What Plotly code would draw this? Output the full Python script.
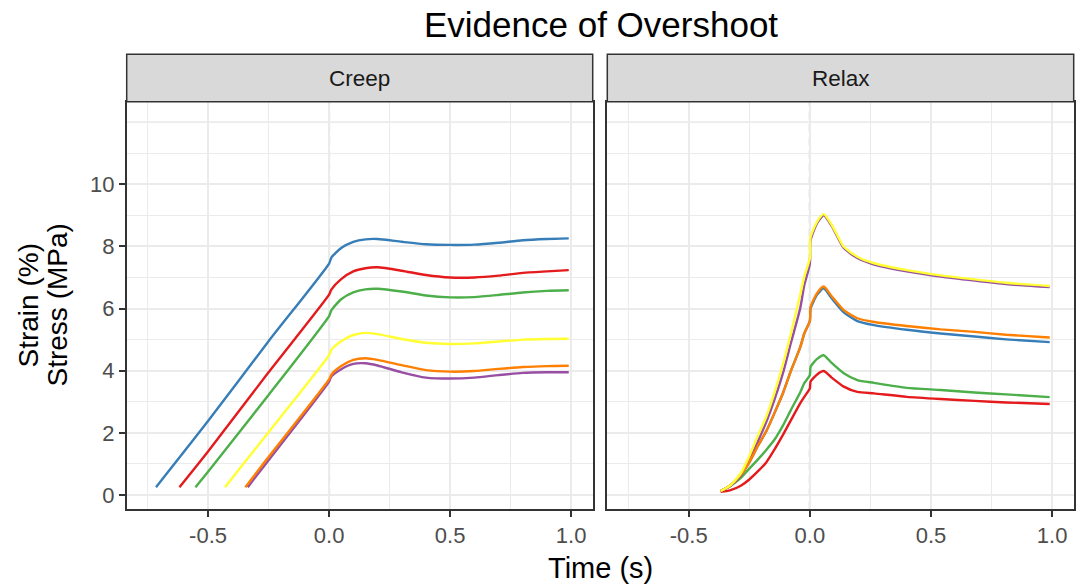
import plotly.graph_objects as go

W, H = 1076, 588

# ---------------- data ----------------
series_names = ["red", "blue", "green", "purple", "orange", "yellow"]
colors = {"red": "#E41A1C", "blue": "#377EB8", "green": "#4DAF4A",
          "purple": "#984EA3", "orange": "#FF7F00", "yellow": "#FFFF33"}

creep_x = {
    "red":    [-0.618, -0.5, -0.25, 0.0, 0.01, 0.05, 0.1, 0.15, 0.2, 0.3, 0.4, 0.5, 0.6, 0.7, 0.8, 0.9, 0.99],
    "blue":   [-0.715, -0.5, -0.25, 0.0, 0.01, 0.05, 0.1, 0.15, 0.2, 0.3, 0.4, 0.5, 0.6, 0.7, 0.8, 0.9, 0.99],
    "green":  [-0.552, -0.5, -0.25, 0.0, 0.01, 0.05, 0.1, 0.15, 0.2, 0.3, 0.4, 0.5, 0.6, 0.7, 0.8, 0.9, 0.99],
    "purple": [-0.336, -0.3, -0.25, 0.0, 0.01, 0.05, 0.1, 0.15, 0.2, 0.3, 0.4, 0.5, 0.6, 0.7, 0.8, 0.9, 0.99],
    "orange": [-0.346, -0.3, -0.25, 0.0, 0.01, 0.05, 0.1, 0.15, 0.2, 0.3, 0.4, 0.5, 0.6, 0.7, 0.8, 0.9, 0.99],
    "yellow": [-0.430, -0.4, -0.25, 0.0, 0.01, 0.05, 0.1, 0.15, 0.2, 0.3, 0.4, 0.5, 0.6, 0.7, 0.8, 0.9, 0.99],
}
creep_y = {
    "red":    [0.25, 1.40, 3.95, 6.45, 6.62, 6.95, 7.20, 7.30, 7.33, 7.22, 7.08, 7.00, 7.00, 7.06, 7.15, 7.20, 7.24],
    "blue":   [0.25, 2.38, 4.95, 7.45, 7.65, 7.95, 8.15, 8.23, 8.24, 8.15, 8.07, 8.05, 8.06, 8.12, 8.20, 8.24, 8.26],
    "green":  [0.25, 0.75, 3.22, 5.76, 5.95, 6.30, 6.52, 6.62, 6.64, 6.55, 6.42, 6.36, 6.37, 6.44, 6.52, 6.57, 6.59],
    "purple": [0.25, 0.62, 1.12, 3.65, 3.82, 4.05, 4.22, 4.24, 4.17, 3.95, 3.78, 3.75, 3.78, 3.86, 3.93, 3.95, 3.95],
    "orange": [0.25, 0.72, 1.22, 3.72, 3.88, 4.15, 4.35, 4.40, 4.35, 4.18, 4.02, 3.97, 3.99, 4.06, 4.12, 4.15, 4.16],
    "yellow": [0.25, 0.55, 2.02, 4.50, 4.68, 4.95, 5.15, 5.22, 5.18, 5.02, 4.90, 4.86, 4.88, 4.94, 5.00, 5.02, 5.03],
}

relax_x = [-0.368, -0.33, -0.285, -0.25, -0.216, -0.18, -0.147, -0.11, -0.078, -0.04, -0.023,
           0.0, 0.003, 0.03, 0.057, 0.09, 0.14, 0.196, 0.265, 0.40, 0.54, 0.68, 0.81, 0.99]
relax_y = {
    "red":    [0.10, 0.15, 0.30, 0.50, 0.75, 1.05, 1.45, 1.95, 2.41, 2.95, 3.16,
               3.43, 3.65, 3.88, 3.99, 3.78, 3.49, 3.32, 3.27, 3.16, 3.09, 3.03, 2.98, 2.93],
    "blue":   [0.13, 0.30, 0.65, 1.05, 1.56, 2.05, 2.62, 3.30, 4.00, 4.75, 5.20,
               5.60, 6.00, 6.45, 6.65, 6.33, 5.88, 5.60, 5.47, 5.32, 5.20, 5.10, 5.01, 4.92],
    "green":  [0.13, 0.28, 0.55, 0.85, 1.13, 1.45, 1.77, 2.25, 2.74, 3.30, 3.60,
               3.86, 4.13, 4.38, 4.50, 4.25, 3.92, 3.70, 3.61, 3.45, 3.38, 3.30, 3.24, 3.15],
    "purple": [0.13, 0.28, 0.62, 1.12, 1.70, 2.35, 3.05, 3.95, 4.90, 6.00, 6.75,
               7.45, 8.20, 8.75, 9.00, 8.66, 7.95, 7.63, 7.42, 7.20, 7.03, 6.90, 6.79, 6.69],
    "orange": [0.13, 0.30, 0.65, 1.05, 1.56, 2.05, 2.62, 3.30, 4.00, 4.75, 5.20,
               5.60, 6.05, 6.50, 6.71, 6.40, 5.95, 5.69, 5.57, 5.44, 5.33, 5.25, 5.16, 5.07],
    "yellow": [0.13, 0.30, 0.70, 1.25, 1.88, 2.52, 3.27, 4.24, 5.20, 6.44, 7.03,
               7.62, 8.30, 8.80, 9.04, 8.70, 7.99, 7.67, 7.46, 7.24, 7.07, 6.94, 6.83, 6.73],
}

facet_labels = ["Creep", "Relax"]
x_tickvals = [-0.5, 0.0, 0.5, 1.0]
x_ticktext = ["-0.5", "0.0", "0.5", "1.0"]
x_minor = [-0.75, -0.25, 0.25, 0.75]
y_tickvals = [0, 2, 4, 6, 8, 10]
y_ticktext = ["0", "2", "4", "6", "8", "10"]
y_minor = [1, 3, 5, 7, 9, 11]
title_text = "Evidence of Overshoot"
x_title = "Time (s)"
y_title_lines = ["Strain (%)", "Stress (MPa)"]

# ---------------- layout geometry ----------------
def px_x(p):
    return p / W

def px_y(p):
    return 1 - p / H

d1 = [px_x(126.7), px_x(592.7)]
d2 = [px_x(607.3), px_x(1073.7)]
ydom = [px_y(509.3), px_y(101.7)]
strip_top = px_y(54.3)

FONT = "Liberation Sans, Arial, sans-serif"
GRID = "#EBEBEB"
BORDER = "#333333"

fig = go.Figure()

for name in series_names:
    fig.add_trace(go.Scatter(x=creep_x[name], y=creep_y[name], mode="lines",
                             line=dict(color=colors[name], width=2.4, shape="spline", smoothing=0.6),
                             xaxis="x", yaxis="y", showlegend=False, hoverinfo="skip"))
for name in series_names:
    fig.add_trace(go.Scatter(x=relax_x, y=relax_y[name], mode="lines",
                             line=dict(color=colors[name], width=2.4, shape="spline", smoothing=0.6),
                             xaxis="x2", yaxis="y2", showlegend=False, hoverinfo="skip"))

xr = [-0.836, 1.089]
yr = [-0.46, 12.66]

xcommon = dict(range=xr, tickmode="array", tickvals=x_tickvals, ticktext=x_ticktext,
               showgrid=True, gridcolor=GRID, gridwidth=1.8, zeroline=False,
               showline=True, linecolor=BORDER, linewidth=1.5, mirror=True,
               ticks="outside", ticklen=6, tickwidth=1.5, tickcolor=BORDER,
               tickfont=dict(family=FONT, size=22, color="#4D4D4D"),
               minor=dict(tickmode="array", tickvals=x_minor, showgrid=True,
                          gridcolor=GRID, gridwidth=1, ticks=""),
               fixedrange=True)
ycommon = dict(range=yr, tickmode="array", tickvals=y_tickvals, ticktext=y_ticktext,
               showgrid=True, gridcolor=GRID, gridwidth=1.8, zeroline=False,
               showline=True, linecolor=BORDER, linewidth=1.5, mirror=True,
               tickfont=dict(family=FONT, size=22, color="#4D4D4D"),
               minor=dict(tickmode="array", tickvals=y_minor, showgrid=True,
                          gridcolor=GRID, gridwidth=1, ticks=""),
               domain=ydom, fixedrange=True)

fig.update_layout(
    width=W, height=H,
    margin=dict(l=0, r=0, t=0, b=0),
    paper_bgcolor="white", plot_bgcolor="white",
    xaxis=dict(domain=d1, anchor="y", **xcommon),
    xaxis2=dict(domain=d2, anchor="y2", **xcommon),
    yaxis=dict(anchor="x", ticks="outside", ticklen=6, tickwidth=1.5, tickcolor=BORDER,
               showticklabels=True, **ycommon),
    yaxis2=dict(anchor="x2", ticks="", showticklabels=False, matches="y", **ycommon),
)

shapes = []
# gridline at 12 (major, unlabeled)
for xa, ya in (("x", "y"), ("x2", "y2")):
    shapes.append(dict(type="line", xref=f"{xa} domain", yref=ya, x0=0, x1=1, y0=12, y1=12,
                       line=dict(color=GRID, width=1.8), layer="below"))
    shapes.append(dict(type="line", xref=xa, yref=f"{ya} domain", x0=0, x1=0, y0=0, y1=1,
                       line=dict(color="#A8A8A8", width=2, dash="8px,5px"), layer="below"))
# strips
for dom, lab in zip((d1, d2), facet_labels):
    shapes.append(dict(type="rect", xref="paper", yref="paper", x0=dom[0], x1=dom[1],
                       y0=ydom[1], y1=strip_top, fillcolor="#D9D9D9",
                       line=dict(color=BORDER, width=1.5), layer="above"))
fig.update_layout(shapes=shapes)

ann = []
for dom, lab in zip((d1, d2), facet_labels):
    ann.append(dict(text=lab, xref="paper", yref="paper", x=(dom[0] + dom[1]) / 2,
                    y=(ydom[1] + strip_top) / 2, xanchor="center", yanchor="middle",
                    showarrow=False, font=dict(family=FONT, size=22.5, color="#1A1A1A")))
ann.append(dict(text=title_text, xref="paper", yref="paper", x=px_x(600.5), y=px_y(25),
                xanchor="center", yanchor="middle", showarrow=False,
                font=dict(family=FONT, size=35, color="black")))
ann.append(dict(text=x_title, xref="paper", yref="paper", x=px_x(600), y=px_y(568),
                xanchor="center", yanchor="middle", showarrow=False,
                font=dict(family=FONT, size=29, color="black")))
for xp, t in zip((28, 57), y_title_lines):
    ann.append(dict(text=t, xref="paper", yref="paper", x=px_x(xp), y=px_y(305.5),
                    xanchor="center", yanchor="middle", textangle=-90, showarrow=False,
                    font=dict(family=FONT, size=28, color="black")))
fig.update_layout(annotations=ann)

fig.write_html("out.html")
